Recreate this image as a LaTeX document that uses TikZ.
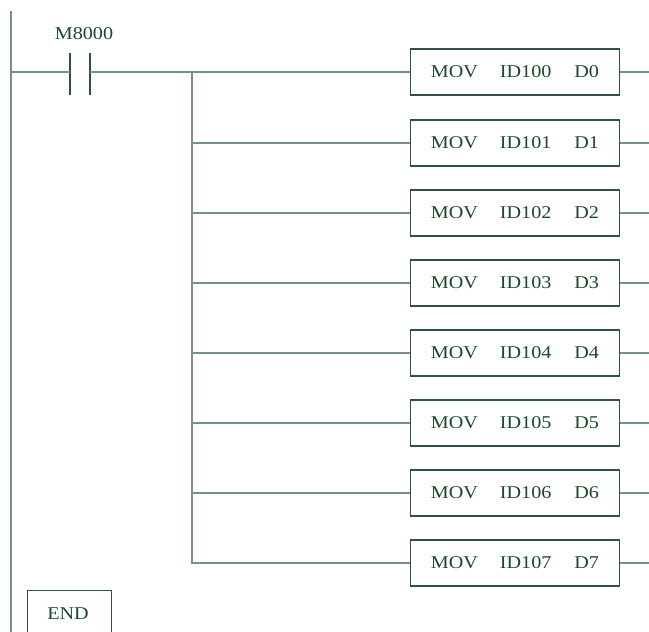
\documentclass[tikz,border=0pt]{standalone}
\usepackage{fontspec}
\setmainfont{Liberation Serif}
\newfontfamily\plcfont[FakeStretch=1.12]{Liberation Serif}
\definecolor{wirecol}{RGB}{118,146,128}
\definecolor{edgecol}{RGB}{45,85,60}
\definecolor{txtcol}{RGB}{28,72,45}
\begin{document}
\begin{tikzpicture}[x=1pt,y=-1pt,
  wire/.style={draw=wirecol,line width=1.2pt},
  plate/.style={draw=edgecol,line width=1.2pt},
  lbl/.style={text=txtcol,font=\plcfont\fontsize{18}{21}\selectfont,inner sep=0pt},
  movbox/.style={draw=edgecol,line width=1.1pt,minimum width=209pt,minimum height=46pt,inner sep=0pt,text=txtcol,font=\plcfont\fontsize{18}{21}\selectfont},
  endbox/.style={draw=edgecol,line width=1.1pt,minimum width=84pt,minimum height=46pt,inner sep=0pt}]
\useasboundingbox (0,0) rectangle (649,632);
\coordinate (railtop) at (11,11);
\coordinate (railbot) at (11,640);
\draw[wire] (railtop) -- (railbot);
% contact
\coordinate (cl) at (70,72);
\coordinate (cr) at (90,72);
\coordinate (clt) at (70,53); \coordinate (clb) at (70,95);
\coordinate (crt) at (90,53); \coordinate (crb) at (90,95);
\draw[plate] (clt) -- (clb);
\draw[plate] (crt) -- (crb);
\node[lbl] (m8000) at (84,33.5) {M8000};
\draw[wire] (railtop |- cl) -- (cl);
\coordinate (bustop) at (192,72);
\coordinate (busbot) at (192,564);
\draw[wire] (cr) -- (bustop);
\draw[wire] (bustop) -- (busbot);
\foreach \i/\y in {0/72,1/143,2/213,3/283,4/353,5/423,6/493,7/563}{
  \node[movbox] (b\i) at (515,\y) {\raisebox{-1.5pt}{MOV\hspace{22pt}ID10\i\hspace{23pt}D\i}};
  \coordinate (o\i) at (649,\y);
  \draw[wire] (bustop |- b\i.west) -- (b\i.west);
  \draw[wire] (b\i.east) -- (o\i);
}
\node[endbox,anchor=north west] (endb) at (27,590) {};
\node[lbl] (endt) at (68,614) {END};
\end{tikzpicture}
\end{document}
